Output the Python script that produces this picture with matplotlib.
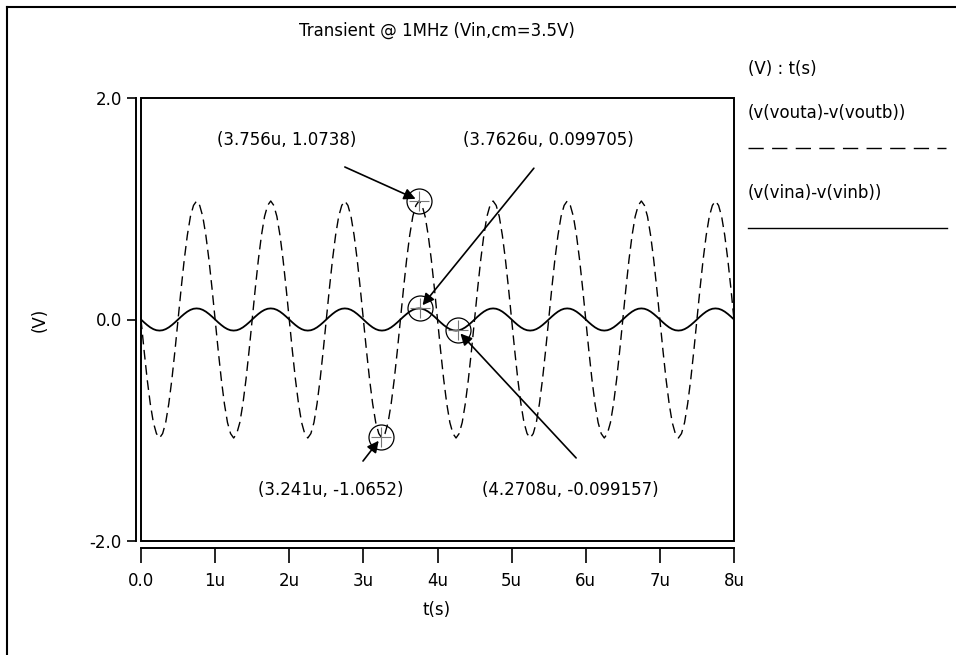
import numpy as np
import matplotlib
matplotlib.use("Agg")
import matplotlib.pyplot as plt
from matplotlib.lines import Line2D
from matplotlib.patches import Rectangle

plt.rcParams['font.family'] = ['DejaVu Sans']
plt.rcParams['font.size'] = 12

# transient samples, 24 per 1us period, 0 .. 8us
n_per_us = 24
vout_diff = [
    0.00, -0.28, -0.54, -0.76, -0.93, -1.03, -1.07, -1.03, -0.93, -0.76, -0.54, -0.28,
    0.00, 0.28, 0.54, 0.76, 0.93, 1.03, 1.07, 1.03, 0.93, 0.76, 0.54, 0.28,
    0.00, -0.28, -0.54, -0.76, -0.93, -1.03, -1.07, -1.03, -0.93, -0.76, -0.54, -0.28,
    0.00, 0.28, 0.54, 0.76, 0.93, 1.03, 1.07, 1.03, 0.93, 0.76, 0.54, 0.28,
    0.00, -0.28, -0.54, -0.76, -0.93, -1.03, -1.07, -1.03, -0.93, -0.76, -0.54, -0.28,
    0.00, 0.28, 0.54, 0.76, 0.93, 1.03, 1.07, 1.03, 0.93, 0.76, 0.54, 0.28,
    0.00, -0.28, -0.54, -0.76, -0.93, -1.03, -1.07, -1.03, -0.93, -0.76, -0.54, -0.28,
    0.00, 0.28, 0.54, 0.76, 0.93, 1.03, 1.07, 1.03, 0.93, 0.76, 0.54, 0.28,
    0.00, -0.28, -0.54, -0.76, -0.93, -1.03, -1.07, -1.03, -0.93, -0.76, -0.54, -0.28,
    0.00, 0.28, 0.54, 0.76, 0.93, 1.03, 1.07, 1.03, 0.93, 0.76, 0.54, 0.28,
    0.00, -0.28, -0.54, -0.76, -0.93, -1.03, -1.07, -1.03, -0.93, -0.76, -0.54, -0.28,
    0.00, 0.28, 0.54, 0.76, 0.93, 1.03, 1.07, 1.03, 0.93, 0.76, 0.54, 0.28,
    0.00, -0.28, -0.54, -0.76, -0.93, -1.03, -1.07, -1.03, -0.93, -0.76, -0.54, -0.28,
    0.00, 0.28, 0.54, 0.76, 0.93, 1.03, 1.07, 1.03, 0.93, 0.76, 0.54, 0.28,
    0.00, -0.28, -0.54, -0.76, -0.93, -1.03, -1.07, -1.03, -0.93, -0.76, -0.54, -0.28,
    0.00, 0.28, 0.54, 0.76, 0.93, 1.03, 1.07, 1.03, 0.93, 0.76, 0.54, 0.28,
    0.00,
]
vin_diff = [
    0.000, -0.026, -0.050, -0.071, -0.087, -0.097, -0.100, -0.097, -0.087, -0.071, -0.050, -0.026,
    0.000, 0.026, 0.050, 0.071, 0.087, 0.097, 0.100, 0.097, 0.087, 0.071, 0.050, 0.026,
    0.000, -0.026, -0.050, -0.071, -0.087, -0.097, -0.100, -0.097, -0.087, -0.071, -0.050, -0.026,
    0.000, 0.026, 0.050, 0.071, 0.087, 0.097, 0.100, 0.097, 0.087, 0.071, 0.050, 0.026,
    0.000, -0.026, -0.050, -0.071, -0.087, -0.097, -0.100, -0.097, -0.087, -0.071, -0.050, -0.026,
    0.000, 0.026, 0.050, 0.071, 0.087, 0.097, 0.100, 0.097, 0.087, 0.071, 0.050, 0.026,
    0.000, -0.026, -0.050, -0.071, -0.087, -0.097, -0.100, -0.097, -0.087, -0.071, -0.050, -0.026,
    0.000, 0.026, 0.050, 0.071, 0.087, 0.097, 0.100, 0.097, 0.087, 0.071, 0.050, 0.026,
    0.000, -0.026, -0.050, -0.071, -0.087, -0.097, -0.100, -0.097, -0.087, -0.071, -0.050, -0.026,
    0.000, 0.026, 0.050, 0.071, 0.087, 0.097, 0.100, 0.097, 0.087, 0.071, 0.050, 0.026,
    0.000, -0.026, -0.050, -0.071, -0.087, -0.097, -0.100, -0.097, -0.087, -0.071, -0.050, -0.026,
    0.000, 0.026, 0.050, 0.071, 0.087, 0.097, 0.100, 0.097, 0.087, 0.071, 0.050, 0.026,
    0.000, -0.026, -0.050, -0.071, -0.087, -0.097, -0.100, -0.097, -0.087, -0.071, -0.050, -0.026,
    0.000, 0.026, 0.050, 0.071, 0.087, 0.097, 0.100, 0.097, 0.087, 0.071, 0.050, 0.026,
    0.000, -0.026, -0.050, -0.071, -0.087, -0.097, -0.100, -0.097, -0.087, -0.071, -0.050, -0.026,
    0.000, 0.026, 0.050, 0.071, 0.087, 0.097, 0.100, 0.097, 0.087, 0.071, 0.050, 0.026,
    0.000,
]
t_us = np.arange(len(vout_diff)) / n_per_us

# markers (t in us, value in V)
mark_t = [3.756, 3.7626, 3.241, 4.2708]
mark_v = [1.0738, 0.099705, -1.0652, -0.099157]

x_ticks = [0, 1, 2, 3, 4, 5, 6, 7, 8]
x_tick_labels = ['0.0', '1u', '2u', '3u', '4u', '5u', '6u', '7u', '8u']
y_ticks = [-2, 0, 2]
y_tick_labels = ['-2.0', '0.0', '2.0']

W, H = 956, 655
fig = plt.figure(figsize=(W / 100, H / 100), dpi=100)

ax = fig.add_axes([141 / W, 1 - 541 / H, (734 - 141) / W, (541 - 98) / H])
ax.set_xlim(0, 8)
ax.set_ylim(-2, 2)

dash = (0, (7, 4))
ax.plot(t_us, vout_diff, color='k', lw=1.0, ls=dash)
ax.plot(t_us, vin_diff, color='k', lw=1.3)

# axis lines drawn apart from the box, like the waveform viewer
for s in ['top', 'right']:
    ax.spines[s].set_visible(False)
ax.spines['left'].set_position(('outward', 3.3))
ax.spines['bottom'].set_position(('outward', 5))
for s in ['left', 'bottom']:
    ax.spines[s].set_linewidth(1.4)
ax.add_patch(Rectangle((0, 0), 1, 1, transform=ax.transAxes, fill=False,
                       lw=1.4, ec='k', clip_on=False))

ax.set_xticks(x_ticks)
ax.set_xticklabels(x_tick_labels)
ax.set_yticks(y_ticks)
ax.set_yticklabels(y_tick_labels)
ax.tick_params(axis='y', direction='out', length=6.5, width=1.2, pad=4)
ax.tick_params(axis='x', direction='out', length=11, width=1.2, pad=6)

fig.text(40 / W, 1 - 320 / H, '(V)', rotation=90, ha='center', va='center')
fig.text(437 / W, 1 - 610 / H, 't(s)', ha='center', va='center')
fig.text(437 / W, 1 - 31 / H, 'Transient @ 1MHz (Vin,cm=3.5V)', ha='center', va='center')

# marker labels and arrows
label_xy = [(1.97, 1.62), (5.50, 1.62), (2.56, -1.54), (5.79, -1.54)]
tail_xy = [(2.75, 1.377), (5.30, 1.366), (2.995, -1.278), (5.87, -1.25)]
for i in range(len(mark_t)):
    mx, my = mark_t[i], mark_v[i]
    ax.plot([mx], [my], marker='o', ms=18, mfc='none', mec='k', mew=0.9)
    ax.plot([mx], [my], marker='+', ms=15, mec='#777777', mew=0.8)
    ax.annotate('', xy=(mx, my), xytext=tail_xy[i],
                arrowprops=dict(arrowstyle='-|>', color='k', lw=1.2,
                                mutation_scale=17, shrinkA=0, shrinkB=3))
    ax.text(label_xy[i][0], label_xy[i][1], f'({mx}u, {my})',
            ha='center', va='center')

# legend on the right
fig.text(748 / W, 1 - 69 / H, '(V) : t(s)', ha='left', va='center')
fig.text(748 / W, 1 - 113 / H, '(v(vouta)-v(voutb))', ha='left', va='center')
fig.add_artist(Line2D([748 / W, 946 / W], [1 - 148 / H] * 2, color='k',
                      lw=1.0, ls=(0, (11, 6))))
fig.text(748 / W, 1 - 193 / H, '(v(vina)-v(vinb))', ha='left', va='center')
fig.add_artist(Line2D([748 / W, 947 / W], [1 - 228 / H] * 2, color='k', lw=1.0))

# outer frame
fig.add_artist(Line2D([7 / W, 1], [1 - 7 / H] * 2, color='k', lw=1.5))
fig.add_artist(Line2D([7 / W, 7 / W], [0, 1 - 7 / H], color='k', lw=1.5))

fig.savefig('out.png', dpi=100)
